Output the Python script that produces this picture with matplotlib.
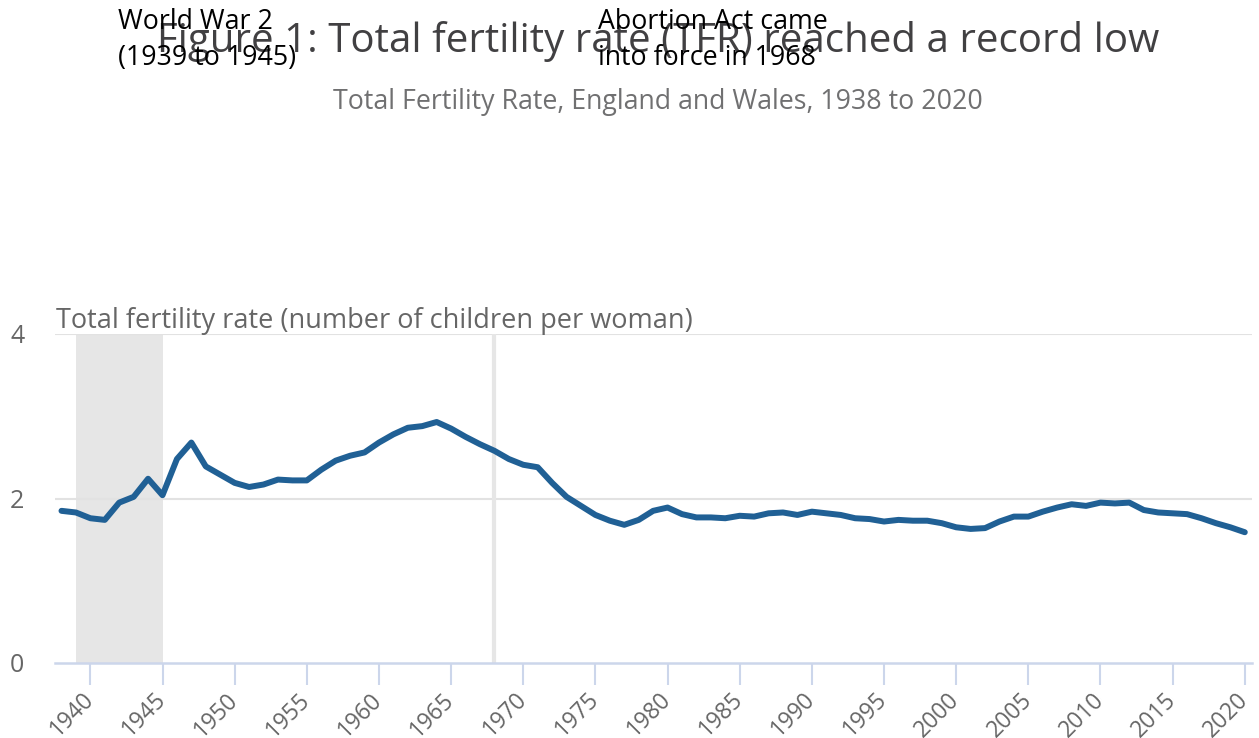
import matplotlib
matplotlib.use("Agg")
import matplotlib.pyplot as plt
import numpy as np

years = list(range(1938, 2021))
tfr = [1.85, 1.83, 1.76, 1.74, 1.95, 2.02, 2.24, 2.04, 2.48, 2.68, 2.39, 2.29,
       2.19, 2.14, 2.17, 2.23, 2.22, 2.22, 2.35, 2.46, 2.52, 2.56, 2.68, 2.78,
       2.86, 2.88, 2.93, 2.85, 2.75, 2.66, 2.58, 2.48, 2.41, 2.38, 2.19, 2.02,
       1.91, 1.80, 1.73, 1.68, 1.74, 1.85, 1.89, 1.81, 1.77, 1.77, 1.76, 1.79,
       1.78, 1.82, 1.83, 1.80, 1.84, 1.82, 1.80, 1.76, 1.75, 1.72, 1.74, 1.73,
       1.73, 1.70, 1.65, 1.63, 1.64, 1.72, 1.78, 1.78, 1.84, 1.89, 1.93, 1.91,
       1.95, 1.94, 1.95, 1.86, 1.83, 1.82, 1.81, 1.76, 1.70, 1.65, 1.59]
xticks = list(range(1940, 2021, 5))
yticks = [0, 2, 4]
ww2_band = (1939, 1945)
abortion_year = 1968

title = "Figure 1: Total fertility rate (TFR) reached a record low"
subtitle = "Total Fertility Rate, England and Wales, 1938 to 2020"
ytitle = "Total fertility rate (number of children per woman)"
ann1 = "World War 2\n(1939 to 1945)"
ann2 = "Abortion Act came\ninto force in 1968"

plt.rcParams['font.family'] = ['Open Sans', 'DejaVu Sans']

fig = plt.figure(figsize=(12.59, 7.38), dpi=100)
ax = fig.add_axes([55/1259, 1-663/738, (1252-55)/1259, (663-334)/738])

ax.axvspan(ww2_band[0], ww2_band[1], color='#e6e6e6', lw=0, zorder=0)
ax.axvline(abortion_year, color='#e6e6e6', lw=3, zorder=0.5)
for yv in yticks[1:]:
    ax.axhline(yv, color='#e2e2e2', lw=1.5, zorder=0.3)

ax.plot(years, tfr, color='#206095', lw=4.3, solid_capstyle='round',
        solid_joinstyle='round', zorder=3)

ax.set_xlim(1937.55, 2020.5)
ax.set_ylim(0, 4)
ax.set_xticks(xticks)
ax.set_xticklabels([str(x) for x in xticks], rotation=45, ha='right',
                   va='center', rotation_mode='anchor', fontsize=16.5,
                   color='#666666')
ax.set_yticks(yticks)
ax.set_yticklabels([str(y) for y in yticks], fontsize=18, color='#666666')
ax.tick_params(axis='x', length=16, width=1.5, color='#ccd6eb', pad=8)
ax.tick_params(axis='y', length=0, pad=22)
for lbl in ax.get_yticklabels():
    lbl.set_verticalalignment('center_baseline')
for s in ['top', 'right', 'left']:
    ax.spines[s].set_visible(False)
ax.spines['bottom'].set_color('#ccd6eb')
ax.spines['bottom'].set_linewidth(1.8)

fig.text(56/1259, 1-321/738, ytitle, fontsize=19.5, color='#666666',
         ha='left', va='center')
fig.text(658/1259, 1-41/738, title, fontsize=29, color='#414042',
         ha='center', va='center')
fig.text(658/1259, 1-102/738, subtitle, fontsize=19.3, color='#707071',
         ha='center', va='center')
fig.text(118/1259, 1-8/738, ann1, fontsize=19.3, color='black',
         ha='left', va='top', linespacing=1.38)
fig.text(598/1259, 1-8/738, ann2, fontsize=19.3, color='black',
         ha='left', va='top', linespacing=1.38)

fig.savefig('out.png', dpi=100, facecolor='white')
